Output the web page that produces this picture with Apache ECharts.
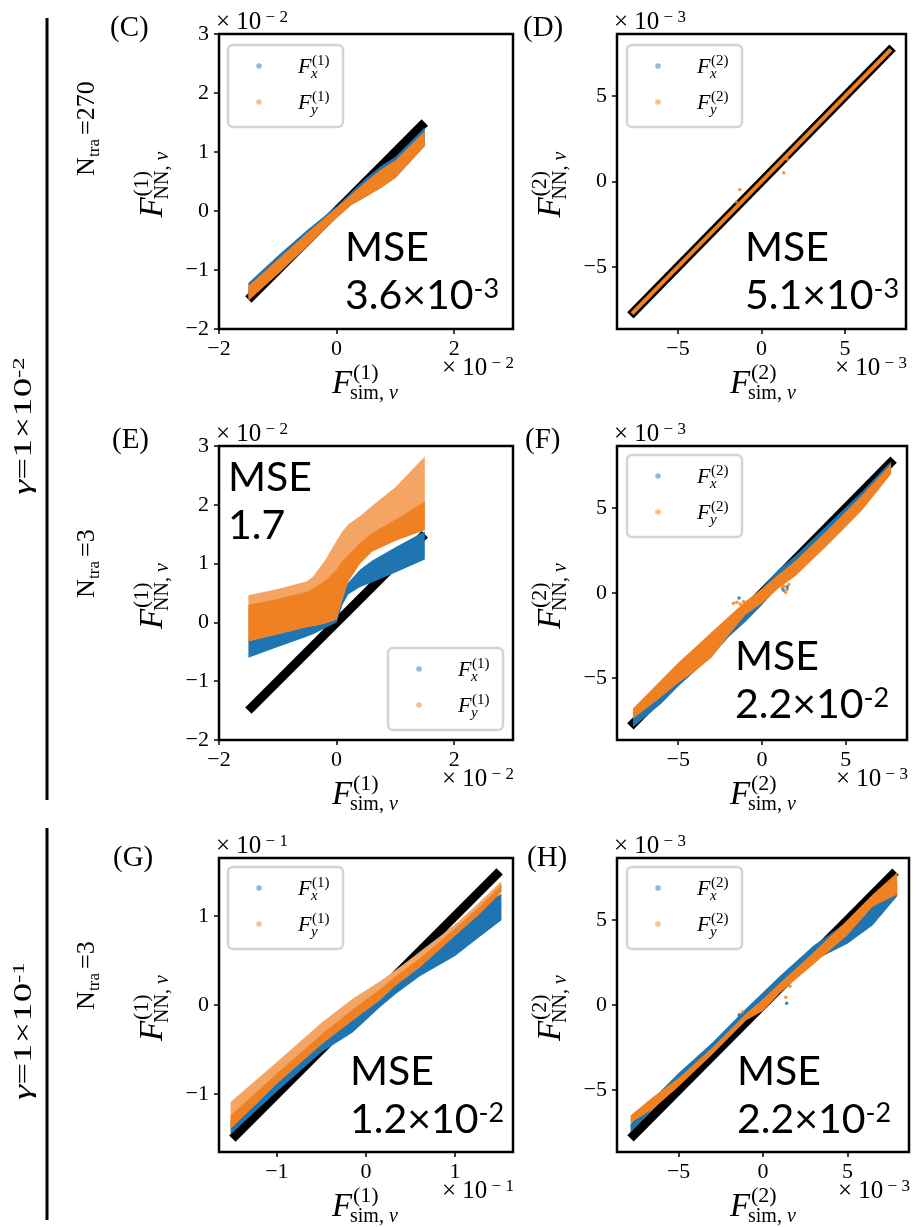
<!DOCTYPE html>
<html><head><meta charset="utf-8">
<script src="https://cdn.jsdelivr.net/npm/echarts@6/dist/echarts.min.js"></script>
<style>html,body{margin:0;padding:0;background:#fff}#main{width:917px;height:1227px}</style>
</head><body><div id="main"></div>
<script>
// ---------------- DATA (values in units of the axis multiplier) ----------------
// Panel C
const cDiag = [-1.5, 1.5];
const cX        = [-1.5, -1.0, -0.5, 0, 0.25, 0.5, 0.75, 1.0, 1.5];
const cBlueHi   = [-1.22, -0.76, -0.32, 0.08, 0.32, 0.56, 0.76, 0.92, 1.42];
const cBlueLo   = [-1.48, -1.06, -0.6, -0.12, 0.1, 0.24, 0.39, 0.56, 1.1];
const cOrangeHi = [-1.27, -0.82, -0.37, 0.06, 0.28, 0.5, 0.7, 0.86, 1.36];
const cOrangeLo = [-1.52, -1.07, -0.6, -0.12, 0.1, 0.24, 0.39, 0.56, 1.1];
// Panel D
const dDiag = [-7.85, 7.85];
const dOrangeLine = [-7.75, 7.75];
const dOrangeStray = [[-1.3, -0.47], [1.33, 0.51], [1.55, 1.3], [-1.5, -1.2]];
// Panel E
const eDiag = [-1.5, 1.5];
const eX             = [-1.5, -1.0, -0.5, -0.4, -0.2, 0, 0.1, 0.2, 0.4, 0.6, 1.0, 1.5];
const eBlueHi        = [-0.25, -0.12, 0.02, 0.05, 0.1, 0.2, 0.5, 0.68, 0.9, 1.05, 1.28, 1.55];
const eBlueLo        = [-0.6, -0.42, -0.24, -0.2, -0.1, 0.0, 0.3, 0.48, 0.6, 0.68, 0.85, 1.07];
const eOrangeHi      = [0.46, 0.57, 0.7, 0.78, 1.05, 1.39, 1.55, 1.67, 1.81, 1.98, 2.3, 2.82];
const eOrangeLo      = [-0.32, -0.2, -0.08, -0.06, -0.02, 0.05, 0.4, 0.7, 1.0, 1.2, 1.39, 1.57];
const eOrangeDenseHi = [0.3, 0.4, 0.52, 0.58, 0.7, 0.9, 1.05, 1.15, 1.35, 1.52, 1.75, 2.05];
// Panel F
const fDiag = [-7.85, 7.85];
const fX        = [-7.7, -6, -5, -4, -3, -2, -1, 0, 1, 2, 4, 6, 7.7];
const fBlueHi   = [-7.2, -5.7, -4.7, -3.8, -2.9, -1.8, -0.7, 0.3, 1.4, 2.2, 4.1, 6.0, 7.75];
const fBlueLo   = [-7.9, -6.5, -5.5, -4.6, -3.7, -2.6, -1.7, -0.7, 0.4, 1.2, 3.0, 5.0, 7.3];
const fOrangeHi = [-6.8, -5.1, -4.1, -3.2, -2.3, -1.4, -0.5, 0.25, 1.1, 1.9, 3.8, 5.8, 7.6];
const fOrangeLo = [-7.4, -6.1, -5.3, -4.6, -3.8, -2.5, -1.3, -0.6, 0.3, 1.0, 2.9, 4.9, 7.0];
const fOrangeStray = [[1.1, 0.6], [1.3, 0.4], [1.5, 0.2], [1.6, 0.5], [1.4, 0.05], [1.2, 0.3], [0.9, 0.5], [-1.5, -0.55], [-1.3, -0.65], [-1.7, -0.6], [-1.1, -0.5]];
const fBlueStray = [[-1.37, -0.3], [1.27, 0.18], [1.5, 0.35]];
// Panel G
const gDiag = [-1.5, 1.5];
const gX             = [-1.52, -1.0, -0.5, -0.15, 0.15, 0.33, 0.6, 1.0, 1.27, 1.52];
const gBlueHi        = [-1.3, -0.86, -0.42, -0.1, 0.2, 0.38, 0.6, 0.9, 1.1, 1.25];
const gBlueLo        = [-1.45, -0.97, -0.53, -0.31, -0.03, 0.12, 0.32, 0.55, 0.76, 0.95];
const gOrangeHi      = [-1.09, -0.64, -0.2, 0.07, 0.26, 0.39, 0.59, 0.9, 1.15, 1.39];
const gOrangeLo      = [-1.39, -0.88, -0.44, -0.17, 0.05, 0.22, 0.42, 0.78, 1.02, 1.27];
const gOrangeDenseHi = [-1.24, -0.77, -0.33, -0.05, 0.17, 0.32, 0.52, 0.86, 1.1, 1.35];
// Panel H
const hDiag = [-7.85, 7.85];
const hX        = [-7.85, -6.5, -5, -3, -1, 0, 1, 3, 5, 6.5, 7.95];
const hBlueHi   = [-7.0, -5.5, -4.0, -2.2, -0.2, 0.75, 1.7, 3.5, 4.9, 6.0, 7.1];
const hBlueLo   = [-7.5, -6.1, -4.7, -2.9, -0.9, -0.1, 0.8, 2.6, 3.6, 4.7, 6.4];
const hOrangeHi = [-6.5, -5.4, -4.3, -2.5, -0.5, 0.35, 1.3, 3.1, 5.0, 6.5, 7.8];
const hOrangeLo = [-6.95, -6.1, -4.8, -2.9, -0.9, -0.35, 0.7, 2.4, 4.1, 5.8, 6.5];
const hOrangeStray = [[1.35, 0.45], [1.6, 1.1], [-1.4, -0.55], [-1.2, -0.4]];
const hBlueStray = [[-1.4, -0.6], [1.4, 0.1]];
// Axis ranges and tick labels
const rangeC = [-2, 3], ticksCx = [-2, 0, 2], ticksCy = [-2, -1, 0, 1, 2, 3];
const rangeD = [-8.65, 8.65], ticksD = [-5, 0, 5];
const rangeG = [-1.65, 1.65], ticksG = [-1, 0, 1];
const mse = {C: ['3.6×10', '-3'], D: ['5.1×10', '-3'], E: ['1.7', ''], F: ['2.2×10', '-2'], G: ['1.2×10', '-2'], H: ['2.2×10', '-2']};
const mult = {C: '−2', D: '−3', E: '−2', F: '−3', G: '−1', H: '−3'};

// ---------------- STYLE / LAYOUT ----------------
const BLUE = '#1f74b2', ORANGE = '#f08122', ORANGE_L = '#f4a564';
const SERIF = 'Liberation Serif';
const panels = [
  {id:'C', grid:[219,34,294,295], xr:rangeC, yr:rangeC, xt:ticksCx, yt:ticksCy, sup:'(1)', leg:[228,45], mse:[345,248], lab:[110,28]},
  {id:'D', grid:[617,34,289,295], xr:rangeD, yr:rangeD, xt:ticksD, yt:ticksD, sup:'(2)', leg:[627,45], mse:[745,248], lab:[523,28]},
  {id:'E', grid:[219,446,294,294], xr:rangeC, yr:rangeC, xt:ticksCx, yt:ticksCy, sup:'(1)', leg:[388,648], mse:[228,478], lab:[112,440]},
  {id:'F', grid:[617,446,290,294], xr:rangeD, yr:rangeD, xt:ticksD, yt:ticksD, sup:'(2)', leg:[627,455], mse:[735,657], lab:[525,440]},
  {id:'G', grid:[219,858,294,294], xr:rangeG, yr:rangeG, xt:ticksG, yt:ticksG, sup:'(1)', leg:[228,867], mse:[350,1072], lab:[113,858]},
  {id:'H', grid:[617,858,292,294], xr:rangeD, yr:rangeD, xt:ticksD, yt:ticksD, sup:'(2)', leg:[627,867], mse:[737,1072], lab:[527,858]}
];
const fmt = v => (v < 0 ? '\u2212' + Math.abs(v) : String(v));

function axis(gi, r, ticks, isY) {
  return {
    type:'value', gridIndex:gi, min:r[0], max:r[1], position:isY ? 'left' : 'bottom',
    splitLine:{show:false}, axisLine:{show:false, onZero:false},
    axisTick:{show:true, inside:false, length:5, lineStyle:{color:'#000', width:1.5}, customValues:ticks},
    axisLabel:{show:true, customValues:ticks, margin:isY ? 10 : 9, color:'#000', fontFamily:SERIF, fontSize:22, formatter:fmt}
  };
}
function diag(gi, d) {
  return {type:'line', xAxisIndex:gi, yAxisIndex:gi, data:d.map(v => [v, v]), symbol:'none', silent:true,
    lineStyle:{color:'#000', width:9, cap:'butt'}, z:2};
}
function band(gi, xs, hi, lo, color, z) {
  return {type:'custom', xAxisIndex:gi, yAxisIndex:gi, z, silent:true,
    data: xs.map((x, i) => [x, hi[i], lo[i]]),
    renderItem: (params, api) => {
      if (params.dataIndex !== 0) return null;
      const pts = [];
      for (let i = 0; i < xs.length; i++) pts.push(api.coord([xs[i], hi[i]]));
      for (let i = xs.length - 1; i >= 0; i--) pts.push(api.coord([xs[i], lo[i]]));
      return {type:'polygon', shape:{points:pts}, style:{fill:color}};
    }};
}
function stray(gi, pts, color) {
  return {type:'scatter', xAxisIndex:gi, yAxisIndex:gi, data:pts, symbolSize:3.5, silent:true,
    itemStyle:{color, opacity:0.85}, z:6};
}

const series = [
  diag(0, cDiag), band(0, cX, cBlueHi, cBlueLo, BLUE, 3), band(0, cX, cOrangeHi, cOrangeLo, ORANGE, 4),
  diag(1, dDiag),
  {type:'line', xAxisIndex:1, yAxisIndex:1, data:dOrangeLine.map(v => [v, v]), symbol:'none', silent:true, lineStyle:{color:ORANGE, width:4, cap:'butt'}, z:4},
  stray(1, dOrangeStray, ORANGE),
  diag(2, eDiag), band(2, eX, eBlueHi, eBlueLo, BLUE, 3), band(2, eX, eOrangeHi, eOrangeLo, ORANGE_L, 4), band(2, eX, eOrangeDenseHi, eOrangeLo, ORANGE, 5),
  diag(3, fDiag), band(3, fX, fBlueHi, fBlueLo, BLUE, 3), band(3, fX, fOrangeHi, fOrangeLo, ORANGE, 4),
  stray(3, fOrangeStray, ORANGE), stray(3, fBlueStray, BLUE),
  diag(4, gDiag), band(4, gX, gBlueHi, gBlueLo, BLUE, 3), band(4, gX, gOrangeHi, gOrangeLo, ORANGE_L, 4), band(4, gX, gOrangeDenseHi, gOrangeLo, ORANGE, 5),
  diag(5, hDiag), band(5, hX, hBlueHi, hBlueLo, BLUE, 3), band(5, hX, hOrangeHi, hOrangeLo, ORANGE, 4),
  stray(5, hOrangeStray, ORANGE), stray(5, hBlueStray, BLUE)
];

// ---------------- TEXT / DECORATION ----------------
const G = [];
function text(x, y, t, size, opts) {
  G.push({type:'text', x, y, silent:true, z:60, style:Object.assign({text:t, fontFamily:SERIF, fontSize:size, fill:'#000', align:'left', verticalAlign:'middle'}, opts || {})});
}
function fLabel(x, y, rot, sup, subParts, sz, z) {
  const rich = {
    r:{fontFamily:SERIF, fontSize:sz.B, fill:'#000'},
    i:{fontFamily:SERIF, fontSize:sz.B, fontStyle:'italic', fill:'#000'}
  };
  G.push({type:'group', x, y, rotation:rot, silent:true, z, children:[
    {type:'text', z, x:0, y:0, style:{text:'F', fontFamily:SERIF, fontSize:sz.F, fontStyle:'italic', fill:'#000', verticalAlign:'middle'}},
    {type:'text', z, x:sz.supDx, y:sz.supDy, style:{text:sup, fontFamily:SERIF, fontSize:sz.S, fill:'#000', verticalAlign:'middle'}},
    {type:'text', z, x:sz.subDx, y:sz.subDy, style:{text:subParts.map(p => '{' + p[1] + '|' + p[0] + '}').join(''), rich, verticalAlign:'middle'}}
  ]});
}
const axSz = {F:33, S:22, B:20, supDx:21, supDy:-11, subDx:18, subDy:10};
const legSz = {F:22, S:15, B:15, supDx:14, supDy:-6, subDx:13, subDy:7};
const multRich = {a:{fontFamily:SERIF, fontSize:25, fill:'#000'}, s:{fontFamily:SERIF, fontSize:17, fill:'#000', verticalAlign:'top'}};

panels.forEach((p, i) => {
  const [gl, gt, gw, gh] = p.grid;
  // panel letter
  text(p.lab[0], p.lab[1], '(' + p.id + ')', 29);
  // multipliers
  const m = '{a|× 10}{s| ' + mult[p.id].replace('−', '− ') + '}';
  G.push({type:'text', x:gl - 3, y:gt - 12, silent:true, z:60, style:{text:m, rich:multRich, verticalAlign:'middle'}});
  G.push({type:'text', x:gl + gw - 71, y:gt + gh + 39, silent:true, z:60, style:{text:m, rich:multRich, verticalAlign:'middle'}});
  // axis labels
  fLabel(gl + 113, gt + gh + 55, 0, p.sup, [['sim, ', 'r'], ['v', 'i']], axSz, 60);
  fLabel(gl - 66, gt + gh / 2 + 36, Math.PI / 2, p.sup, [['NN, ', 'r'], ['v', 'i']], axSz, 60);
  // legend
  const [lx, ly] = p.leg;
  G.push({type:'rect', silent:true, shape:{x:lx, y:ly, width:115, height:82, r:5}, style:{fill:'rgba(255,255,255,0.8)', stroke:'#d4d4d4', lineWidth:2.5}, z:50});
  G.push({type:'circle', silent:true, shape:{cx:lx + 31, cy:ly + 21, r:2.8}, style:{fill:'rgba(31,119,180,0.5)'}, z:51});
  G.push({type:'circle', silent:true, shape:{cx:lx + 31, cy:ly + 57, r:2.8}, style:{fill:'rgba(255,127,14,0.5)'}, z:51});
  fLabel(lx + 70, ly + 22, 0, p.sup, [['x', 'i']], legSz, 52);
  fLabel(lx + 70, ly + 58, 0, p.sup, [['y', 'i']], legSz, 52);
  // MSE
  const [mx, my] = p.mse;
  text(mx, my, 'MSE', 41, {fontFamily:'Lato'});
  const mr = {b:{fontFamily:'Lato', fontSize:41, fill:'#000'}, s:{fontFamily:'Lato', fontSize:27, fill:'#000', verticalAlign:'top'}};
  G.push({type:'text', x:mx, y:my + 48, silent:true, z:60, style:{text:'{b|' + mse[p.id][0] + '}' + (mse[p.id][1] ? '{s|' + mse[p.id][1] + '}' : ''), rich:mr, verticalAlign:'middle'}});
});

// left side row/condition labels
G.push({type:'line', silent:true, shape:{x1:47, y1:18, x2:47, y2:800}, style:{stroke:'#000', lineWidth:3}});
G.push({type:'line', silent:true, shape:{x1:47, y1:828, x2:47, y2:1220}, style:{stroke:'#000', lineWidth:3}});
function ntra(x, y, val) {
  G.push({type:'group', x, y, rotation:Math.PI / 2, silent:true, children:[
    {type:'text', x:0, y:0, style:{text:'N', fontFamily:SERIF, fontSize:26, fill:'#000', verticalAlign:'middle'}},
    {type:'text', x:19, y:8, style:{text:'tra', fontFamily:SERIF, fontSize:17, fill:'#000', verticalAlign:'middle'}},
    {type:'text', x:41, y:0, style:{text:'=' + val, fontFamily:SERIF, fontSize:26, fill:'#000', verticalAlign:'middle'}}
  ]});
}
ntra(87, 176, '270');
ntra(87, 598, '3');
ntra(87, 1010, '3');
function gam(x, y, e) {
  G.push({type:'text', x, y, rotation:Math.PI / 2, scaleX:1.55, silent:true, style:{
    text:'{g|γ}{n|=1×10}{s|' + e + '}', verticalAlign:'middle',
    rich:{g:{fontFamily:SERIF, fontSize:25, fontStyle:'italic', fill:'#000'}, n:{fontFamily:SERIF, fontSize:25, fill:'#000'}, s:{fontFamily:SERIF, fontSize:16, fill:'#000', verticalAlign:'top'}}
  }});
}
gam(24, 495, '-2');
gam(24, 1100, '-1');

const option = {
  animation:false,
  backgroundColor:'#fff',
  grid: panels.map(p => ({left:p.grid[0], top:p.grid[1], width:p.grid[2], height:p.grid[3], show:true,
    borderColor:'#000', borderWidth:2.5, backgroundColor:'rgba(0,0,0,0)', containLabel:false, outerBoundsMode:'none'})),
  xAxis: panels.map((p, i) => axis(i, p.xr, p.xt, false)),
  yAxis: panels.map((p, i) => axis(i, p.yr, p.yt, true)),
  series,
  graphic: G
};
const chart = echarts.init(document.getElementById('main'), null, {renderer:'canvas'});
chart.setOption(option);
</script></body></html>
